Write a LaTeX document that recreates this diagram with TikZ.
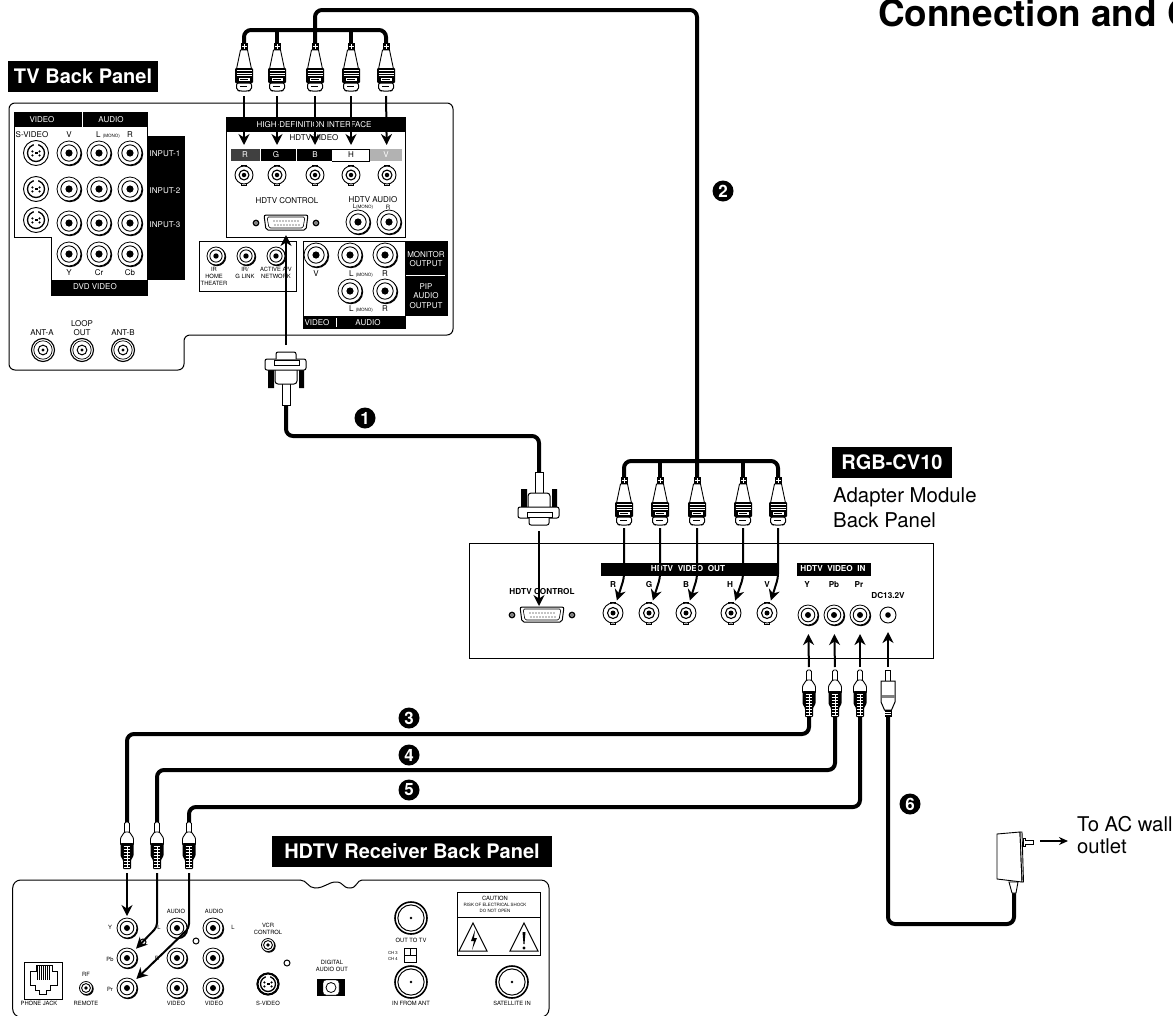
\documentclass[tikz,border=0pt]{standalone}
\usepackage{fontspec}
\setmainfont{TeX Gyre Heros}
\usetikzlibrary{arrows.meta}

\newcommand{\monotag}{{\fontsize{4.5}{5}\selectfont(MONO)}}

% jacks on the panels
\tikzset{
    pics/rcajack/.style={code={
        \fill (.9,.9) circle (#1+.3);
        \draw[fill=white,line width=.8pt] (0,0) circle (#1);
        \draw[line width=.9pt] (0,0) circle (#1*.68);
        \fill (0,0) circle (#1*.3);
    }},
    pics/bncjack/.style={code={
        \draw[fill=white,line width=.8pt] (-2.5,-#1-1) rectangle (2.5,#1+1);
        \draw[fill=white,line width=.9pt] (0,0) circle (#1);
        \draw[line width=1.1pt] (0,0) circle (#1*.55);
        \fill (0,0) circle (#1*.25);
    }},
    pics/antjack/.style={code={
        \draw[fill=white,line width=1.1pt] (0,0) circle (#1);
        \draw[line width=.7pt] (0,0) circle (#1*.8);
        \draw[line width=1pt] (0,0) circle (#1*.42);
        \fill (0,0) circle (#1*.14);
    }},
    pics/fjack/.style={code={
        \draw[fill=white,line width=1.6pt] (0,0) circle (#1);
        \draw[line width=1pt] (0,0) circle (#1*.82);
        \fill (0,0) circle (1.4);
    }},
    pics/svid/.style={code={
        \draw[fill=white,line width=.9pt] (0,0) circle (#1);
        \draw[line width=1.3pt] (0,0) circle (#1*.68);
        \fill (-3.6,-1.6) circle (1.2) (3.6,-1.6) circle (1.2) (-3.6,2.4) circle (1.2) (3.6,2.4) circle (1.2);
        \fill (-1.5,-1) rectangle (1.5,1);
        \fill[white] (-1.6,-#1*.8) rectangle (1.6,-#1*.55);
    }},
    pics/dsubjack/.style={code={
        \draw[fill=white,line width=1pt,rounded corners=2pt] (-22,-8) -- (22,-8) -- (20,7) -- (-20,7) -- cycle;
        \draw[line width=.6pt,rounded corners=1.5pt] (-19,-6) -- (19,-6) -- (17,5) -- (-17,5) -- cycle;
        \foreach \k in {-12,-9,...,12} \fill (\k,-2) circle (.6) (\k+1,2) circle (.6);
        \draw[fill=white,line width=1.5pt] (-30,0) circle (2.6) (30,0) circle (2.6);
        \fill (-30,0) circle (.8) (30,0) circle (.8);
    }},
    % plugs, drawn from their top end downwards
    pics/bncplug/.style={code={
        \fill (-3.5,0) rectangle (3.5,8);
        \draw[white,line width=.5pt] (-2.5,3) -- (2.5,3) (0,1) -- (0,6);
        \draw[fill=white,line width=.9pt] (-3.5,7) -- (3.5,7) -- (7.5,26) -- (-7.5,26) -- cycle;
        \fill[rounded corners=1pt] (-9,25) rectangle (9,40);
        \draw[white,line width=.6pt] (-7.5,27.5) -- (7.5,27.5) (-7.5,30) -- (7.5,30) (-7.5,32.5) -- (7.5,32.5);
        \fill[white] (-5.5,35) rectangle (5.5,38);
        \draw[line width=.5pt] (-4,36.5) -- (4,36.5);
        \draw[fill=white,line width=1pt,rounded corners=2pt] (-7.5,40) -- (-7.5,47) -- (-4.5,48) -- (4.5,48) -- (7.5,47) -- (7.5,40) -- cycle;
        \draw[line width=.8pt] (-4,43.5) -- (3,43.5);
    }},
    pics/rcaplug/.style={code={
        \draw[fill=white,line width=.9pt,rounded corners=1.5pt] (-2.5,11) -- (-2.5,0) -- (2.5,0) -- (2.5,11);
        \draw[fill=white,line width=.9pt,rounded corners=1pt] (-2.5,10) -- (-6.5,16) -- (-6.5,23) -- (6.5,23) -- (6.5,16) -- (2.5,10) -- cycle;
        \fill[rounded corners=1pt] (-6.5,21) -- (-6.5,34) -- (-4,38) -- (-4,47) -- (4,47) -- (4,38) -- (6.5,34) -- (6.5,21) -- cycle;
        \foreach \k in {24,27,30,33,36,39,42,45} \draw[white,line width=.6pt] (-3.3,\k) -- (3.3,\k);
        \draw[white,line width=.6pt] (0,24) -- (0,45);
    }},
    pics/dcplug/.style={code={
        \draw[fill=white,line width=1pt] (-2.5,11) -- (-2.5,0) -- (2.5,0) -- (2.5,11);
        \draw[fill=white,line width=1pt] (-7,11) -- (7,11) -- (7,32) -- (3.5,40) -- (-3.5,40) -- (-7,32) -- cycle;
        \fill[gray] (-6.5,25) rectangle (6.5,28);
        \fill (-3.5,40) rectangle (3.5,47);
        \draw[white,line width=.6pt] (-3,42) -- (3,42) (-3,44.5) -- (3,44.5);
    }},
    pics/dsubplug/.style={code={
        \fill (-18,17) rectangle (-12,38) (13,17) rectangle (18,38);
        \draw[fill=white,line width=.9pt] (-4,0) rectangle (4,22);
        \draw[fill=white,line width=1pt,rounded corners=3pt] (-11,36) -- (-11,21) -- (11,21) -- (11,36);
        \draw[fill=white,line width=1pt,rounded corners=2pt] (-21,35) -- (20,35) -- (20,46) -- (-21,46) -- cycle;
        \draw[fill=white,line width=.9pt] (-12,40) rectangle (13,45);
        \draw[fill=white,line width=1pt,rounded corners=2pt] (-10,46) -- (-10,53) -- (10,53) -- (10,46);
    }}
}

\begin{document}
\begin{tikzpicture}[
        x = 1pt, y = -1pt,
        > = {Stealth[length=11pt,width=11pt]}, % arrow head style
        panel/.style = {line width=1pt},
        cable/.style = {line width=4pt, rounded corners=7pt},
        sig/.style = {->, line width=2pt, rounded corners=4pt},
        tag/.style = {fill=black, text=white, inner sep=0pt, font=\fontsize{20}{22}\selectfont\bfseries},
        bar/.style = {fill=black, draw=black, line width=.5pt},
        lbl/.style = {inner sep=0pt, align=center, font=\fontsize{8}{9.3}\selectfont},
        wlbl/.style = {lbl, text=white},
        tiny lbl/.style = {inner sep=0pt, align=center, font=\fontsize{5.8}{7}\selectfont},
        bold lbl/.style = {inner sep=0pt, font=\fontsize{8.2}{9}\selectfont\bfseries},
        badge/.style = {circle, fill=black, text=white, inner sep=0pt, minimum size=21pt, font=\fontsize{17}{17}\selectfont\bfseries},
        big/.style = {inner sep=0pt, align=left, font=\fontsize{20.4}{25}\selectfont}
    ]
    \useasboundingbox (0,0) rectangle (1173,1015);

    \node[inner sep=0pt, anchor=base west, font=\fontsize{36.9}{38}\selectfont\bfseries] (title) at (878,26) {Connection and C};

    % TV back panel
    \node[tag, minimum width=150pt, minimum height=31pt] (tvtag) at (83,76) {TV Back Panel};
    \draw[panel, rounded corners=6pt] (9,103) -- (453,103) -- (453,335) -- (184,335) -- (184,370) -- (9,370) -- cycle;

    \draw[panel] (14,112) -- (147,112) -- (147,295) -- (51,295) -- (51,237) -- (14,237) -- cycle;
    \fill (14,112) rectangle (147,127);
    \draw[white] (82,112) -- (82,127);
    \fill (147,136) rectangle (185,280);
    \fill (51,280) rectangle (147,295);

    \draw[panel] (226.5,117) rectangle (405,237);
    \fill (226.5,117) rectangle (405,132);
    \fill[black!75] (231,149) rectangle (260,161);
    \fill (261,149) rectangle (296,161);
    \fill (297,149) rectangle (332,161);
    \draw[line width=.8pt] (332,149) -- (369,149) -- (369,161) -- (332,161);
    \fill[black!30] (370,149) rectangle (402,161);

    \draw[panel] (199,241) rectangle (296,291);
    \draw[panel] (303,241) rectangle (405,328);
    \fill (405,241) rectangle (448,316);
    \draw[white, line width=1pt] (406,275) -- (445,275);
    \fill (303,316) rectangle (405,328);
    \draw[white] (336,318) -- (336,327);

    \foreach \y in {153,189,223}
        \foreach \x in {69,99,130}
            \pic at (\x,\y) {rcajack=12};
    \foreach \x in {69,99,130}
        \pic at (\x,254) {rcajack=12};
    \foreach \y in {153,189,220}
        \pic at (36,\y) {svid=12.5};
    \foreach \x/\y in {358/222,389/222,316/255,350/255,385/255,350/291,385/291}
        \pic at (\x,\y) {rcajack=12};
    \foreach \x in {216,246,276}
        \pic at (\x,256) {rcajack=9};
    \foreach \x in {43,82,123}
        \pic at (\x,350) {antjack=11.5};

    \foreach \x/\y/\t [count=\n] in {32/135/S-VIDEO,69/135/V,108/135/{L \monotag},130/135/R,
            69/273/Y,99/273/Cr,130/273/Cb,
            314/138/HDTV VIDEO,287/201/HDTV CONTROL,373/200/HDTV AUDIO,
            363/207/{\fontsize{6}{6}\selectfont L{\fontsize{4.5}{5}\selectfont(MONO)}},388/207/{\fontsize{6}{6}\selectfont R},
            316/274/V,361/274/{L \monotag},385/274/R,361/309/{L \monotag},385/309/R,
            42/333/ANT-A,82/328/{LOOP\\OUT},123/333/ANT-B}
        \node[lbl] (tvlbl\n) at (\x,\y) {\t};
    \foreach \x/\y/\t [count=\n] in {42/120/VIDEO,111/120/AUDIO,165/154/INPUT-1,165/191/INPUT-2,165/225/INPUT-3,
            95/287/DVD VIDEO,314/125/HIGH-DEFINITION INTERFACE,245/155/R,276/155/G,315/155/B,386/155/V,
            426/259/{MONITOR\\OUTPUT},426/296/{PIP\\AUDIO\\OUTPUT},317/323/VIDEO,368/323/AUDIO}
        \node[wlbl] (tvwlbl\n) at (\x,\y) {\t};
    \node[lbl] (tvlblH) at (351,155) {H};
    \foreach \x/\y/\t [count=\n] in {214/276/{IR\\HOME\\THEATER},245/276/{IR/\\G LINK\\\ },276/276/{ACTIVE A/V\\NETWORK\\\ }}
        \node[tiny lbl] (irlbl\n) at (\x,\y) {\t};

    % jacks that the cables go to
    \foreach \x [count=\n] in {244,277,315,351,387} {
        \coordinate (tvj\n) at (\x,175);
        \pic at (tvj\n) {bncjack=9};
    }
    \coordinate (tvd) at (286,223);
    \pic at (tvd) {dsubjack};

    % Adapter module
    \node[tag, minimum width=120pt, minimum height=31pt] (adtag) at (892,462.5) {RGB-CV10};
    \node[big, anchor=north west] (adtxt) at (833,487) {Adapter Module\\Back Panel};
    \draw[panel] (469,543) rectangle (933,658);
    \draw[bar] (601,563) rectangle (777,575);
    \draw[bar] (797,563) rectangle (870,575);
    \node[bold lbl, text=white] (adout) at (688,569) {HDTV\ \ VIDEO\ \ OUT};
    \node[bold lbl, text=white] (adin) at (833,569) {HDTV\ \ VIDEO\ \ IN};
    \foreach \x/\y/\t [count=\n] in {613/585/R,649/585/G,686/585/B,730/585/H,767/585/V,
            807/585/Y,834/585/Pb,859/585/Pr,888/596/DC13.2V,542/592/HDTV CONTROL}
        \node[bold lbl] (adlbl\n) at (\x,\y) {\t};

    \foreach \x [count=\n] in {613,649,686,731,767} {
        \coordinate (adj\n) at (\x,613);
        \pic at (adj\n) {bncjack=10};
    }
    \coordinate (add) at (539,615);
    \pic at (542,615) {dsubjack};
    \foreach \x [count=\n] in {808,834,860} {
        \coordinate (inj\n) at (\x,615);
        \pic at (inj\n) {rcajack=10};
    }
    \coordinate (inj4) at (888,615);
    \draw[fill=white, line width=.9pt] (inj4) circle (8);
    \fill (inj4) circle (2.8);

    % HDTV receiver
    \node[tag, minimum width=280pt, minimum height=31pt] (rxtag) at (412,851) {HDTV Receiver Back Panel};
    \draw[panel, rounded corners=8pt] (300,880) -- (12.7,880) -- (12.7,1017) -- (549,1017) -- (549,880) -- (362,880);
    \draw[panel] (300,880) .. controls (307,880) and (308,888) .. (315,888) .. controls (325,888) and (328,882) .. (336,882)
        .. controls (344,882) and (342,888) .. (350,888) .. controls (357,888) and (357,880) .. (362,880);

    \foreach \y [count=\n] in {928,958,988} {
        \coordinate (rxj\n) at (127,\y);
        \pic at (rxj\n) {rcajack=10};
        \pic at (177,\y) {rcajack=10};
        \pic at (213,\y) {rcajack=10};
    }
    \pic at (86,988) {rcajack=6.5};
    \pic at (268,945) {rcajack=6.5};
    \pic at (268,984) {svid=11};
    \draw[line width=2pt] (268,984) circle (10.5);
    \pic at (411,918) {fjack=16};
    \pic at (411,982) {fjack=16};
    \pic at (512,982) {fjack=16};
    \draw[panel] (196,941) circle (3) (287,963) circle (3) (143,942) circle (3);

    \foreach \x/\y/\t [count=\n] in {176/911/AUDIO,214/911/AUDIO,233/927/L,110/927/Y,110/959/Pb,110/989/Pr,159/927/L,157/958/R,
            176/1003/VIDEO,214/1003/VIDEO,86/974/RF,86/1003/REMOTE,39/1003/PHONE JACK,268/929/{VCR\\CONTROL},268/1003/S-VIDEO,
            332/966/{DIGITAL\\AUDIO OUT},411/940/OUT TO TV,411/1003/IN FROM ANT,512/1003/SATELLITE IN,495/898/CAUTION}
        \node[tiny lbl] (rxlbl\n) at (\x,\y) {\t};
    \node[inner sep=0pt, align=center, font=\fontsize{4.4}{6}\selectfont] (rxrisk) at (495,908) {RISK OF ELECTRICAL SHOCK\\DO NOT OPEN};
    \node[inner sep=0pt, align=center, font=\fontsize{4.2}{6}\selectfont] (rxch) at (393,956) {CH 3\\CH 4};

    % phone jack, digital out, switch, caution box
    \draw[panel] (24,962) rectangle (62,999);
    \draw[panel] (30,971) -- (36,971) -- (36,965) -- (52,965) -- (52,971) -- (57,971) -- (57,985) -- (50,985) -- (50,990) -- (46,990) -- (46,994) -- (39,994) -- (39,990) -- (35,990) -- (35,985) -- (30,985) -- cycle;
    \foreach \k in {37,39,...,50}
        \draw[line width=1pt] (\k,966) -- (\k,980);
    \fill (317,979) rectangle (345,996);
    \draw[fill=white, rounded corners=3pt] (323,980) -- (339,980) -- (339,995) -- (323,995) -- cycle;
    \draw[line width=.8pt] (331,987.5) circle (5);
    \draw[panel] (404,948) rectangle (416,962) (404,955) -- (416,955) (410,948) -- (410,955);
    \draw[panel] (457,892) rectangle (540,955) (457,917) -- (540,917);
    \draw[panel] (473,923) -- (487,951) -- (459,951) -- cycle;
    \draw[panel] (524,923) -- (538,951) -- (510,951) -- cycle;
    \fill (475,930) -- (471,941) -- (474,941) -- (472,950) -- (477,938) -- (474,938) -- cycle;
    \fill (522.5,932) -- (525.5,932) -- (524.5,944) -- (523.5,944) -- cycle;
    \fill (524,948) circle (1.6);

    % plugs
    \foreach \x [count=\n] in {244,277,315,351,386} {
        \coordinate (tvt\n) at (\x,43);
        \coordinate (tvn\n) at (\x,91);
        \pic at (tvt\n) {bncplug};
    }
    \foreach \x [count=\n] in {624,660,697,743,778} {
        \coordinate (adt\n) at (\x,477);
        \coordinate (adn\n) at (\x,525);
        \coordinate (ade\n) at (\x,578);
        \pic at (adt\n) {bncplug};
    }
    \coordinate (tvq) at (286,405);
    \coordinate (tvqn) at (286,350);
    \pic[yscale=-1] at (tvq) {dsubplug};
    \coordinate (adq) at (539,472);
    \coordinate (adqn) at (539,525);
    \pic at (adq) {dsubplug};
    \foreach \x [count=\n] in {809,835,860} {
        \coordinate (inp\n) at (\x,670);
        \coordinate (inb\n) at (\x,717);
        \pic at (inp\n) {rcaplug};
    }
    \coordinate (inp4) at (888,670);
    \coordinate (inb4) at (888,717);
    \pic at (inp4) {dcplug};
    \foreach \x/\e [count=\n] in {127/928,157/927,189/928} {
        \coordinate (rxp\n) at (\x,822);
        \coordinate (rxn\n) at (\x,868);
        \coordinate (rxe\n) at (\x,\e);
        \pic at (rxp\n) {rcaplug};
    }

    % cables
    \coordinate (bart) at (315,30);
    \coordinate (barb) at (697,461);
    \coordinate (c2top) at (697,10);
    \draw[cable] (tvt1) -- (tvt1|-bart) -- (tvt5|-bart) -- (tvt5);
    \foreach \n in {2,3,4}
        \draw[line width=4pt] (tvt\n) -- (tvt\n|-bart);
    \draw[cable] (adt1) -- (adt1|-barb) -- (adt5|-barb) -- (adt5);
    \foreach \n in {2,3,4}
        \draw[line width=4pt] (adt\n) -- (adt\n|-barb);
    \draw[cable] (tvt3) |- (c2top) -- (adt3);
    \coordinate (c1) at (539,436);
    \draw[cable] (tvq) |- (c1) -- (adq);
    \coordinate (c3) at (127,734);
    \coordinate (c4) at (157,770);
    \coordinate (c5) at (189,807);
    \coordinate (c6) at (1014,924);
    \coordinate (wall) at (1014,893);
    \draw[cable] (inb1) |- (c3) -- (rxp1);
    \draw[cable] (inb2) |- (c4) -- (rxp2);
    \draw[cable] (inb3) |- (c5) -- (rxp3);
    \draw[cable] (inb4) |- (c6) -- (wall);

    % wall adapter
    \draw[fill=white, line width=.9pt] (1009,882) -- (1018,882) -- (1016,893) -- (1012,893) -- cycle;
    \draw[fill=white, line width=.9pt] (997,834) -- (1020,832) -- (1022,882) -- (997,879) -- cycle;
    \draw[fill=white, line width=.9pt] (1020,832) -- (1022,832) -- (1023.5,882) -- (1022,882) -- cycle;
    \draw[fill=white, line width=.9pt] (1023,838) -- (1025,838) -- (1025,840) -- (1033,840) -- (1033,844) -- (1025,844) -- (1025,846) -- (1023,846) -- cycle;
    \coordinate (wplug) at (1034,841);
    \coordinate (wend) at (1068,841);
    \draw[->, line width=1.5pt, shorten <=6pt, > = {Stealth[length=9pt,width=8pt]}] (wplug) -- (wend);
    \node[big, anchor=north west, font=\fontsize{20.3}{22}\selectfont] (toac) at (1077,816) {To AC wall\\outlet};

    % arrows from plugs to jacks
    \foreach \n in {1,...,5}
        \draw[sig, shorten <=5pt, shorten >=30pt] (tvn\n) -- (tvj\n);
    \draw[sig, shorten <=5pt, shorten >=12pt] (tvqn) -- (tvd);
    \foreach \n in {1,...,5}
        \draw[sig, shorten <=3pt, shorten >=13pt] (adn\n) -- (ade\n) -- (adj\n);
    \draw[sig, shorten <=6pt, shorten >=9pt] (adqn) -- (add);
    \foreach \n in {1,2,3}
        \draw[sig, shorten <=3pt, shorten >=19pt] (inp\n) -- (inj\n);
    \draw[sig, shorten <=3pt, shorten >=17pt] (inp4) -- (inj4);
    \draw[sig, shorten <=5pt, shorten >=12pt] (rxn1) -- (rxj1);
    \draw[sig, shorten <=5pt, shorten >=13pt] (rxn2) -- (rxe2) -- (rxj2);
    \draw[sig, shorten <=5pt, shorten >=13pt] (rxn3) -- (rxe3) -- (rxj3);

    % cable numbers
    \foreach \x/\y/\t in {365/418/1,723/191/2,409/718/3,409/755/4,409/790/5,910/804/6}
        \node[badge] (num\t) at (\x,\y) {\t};
\end{tikzpicture}
\end{document}
